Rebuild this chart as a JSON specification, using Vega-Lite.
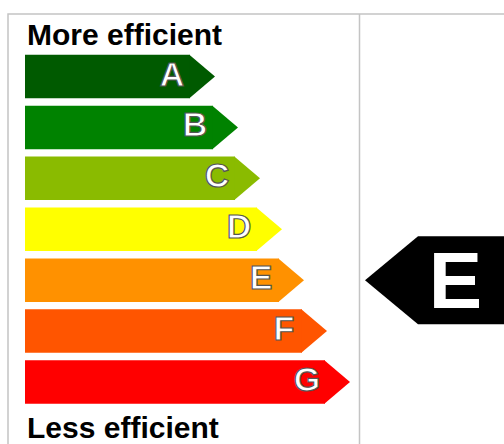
{
  "$schema": "https://vega.github.io/schema/vega-lite/v6.json",
  "width": 506,
  "height": 440,
  "autosize": "none",
  "padding": {"left": 8, "top": 14, "right": -10, "bottom": -10},
  "background": "white",
  "config": {
    "view": {"stroke": "#c4c4c4", "strokeWidth": 1.5},
    "text": {"font": "Liberation Sans", "fontWeight": "bold"}
  },
  "datasets": {
    "bars": [
      {"rating": "A", "length": 165, "color": "#005a00"},
      {"rating": "B", "length": 188, "color": "#008200"},
      {"rating": "C", "length": 210, "color": "#8abb00"},
      {"rating": "D", "length": 232, "color": "#ffff00"},
      {"rating": "E", "length": 254, "color": "#ff9100"},
      {"rating": "F", "length": 277, "color": "#ff5500"},
      {"rating": "G", "length": 300, "color": "#ff0000"}
    ],
    "marker": [{"rating": "E"}],
    "labels": [{"label": "More efficient"}, {"label": "Less efficient"}]
  },
  "layer": [
    {
      "data": {"name": "bars"},
      "mark": {"type": "rect"},
      "encoding": {
        "x": {"field": "length", "type": "quantitative", "scale": {"domain": [-17, 489], "nice": false, "zero": false}, "axis": null},
        "x2": {"datum": 0},
        "y": {"field": "rating", "type": "nominal", "axis": null,
          "scale": {"domain": ["More efficient", "A", "B", "C", "D", "E", "F", "G", "Less efficient"], "range": [-10.15, 440.7], "paddingInner": 0.146, "paddingOuter": 0}},
        "color": {"field": "color", "type": "nominal", "scale": null}
      }
    },
    {
      "data": {"name": "bars"},
      "mark": {"type": "point", "filled": true, "opacity": 1, "shape": "M-0.03,-1L1.149,0L-0.03,1Z", "size": 1892, "strokeWidth": 0},
      "encoding": {
        "x": {"field": "length", "type": "quantitative"},
        "y": {"field": "rating", "type": "nominal"},
        "color": {"field": "color", "type": "nominal", "scale": null}
      }
    },
    {
      "data": {"name": "bars"},
      "mark": {"type": "text", "fontSize": 34, "align": "center", "baseline": "middle", "dx": -18, "dy": -1, "fill": "white", "stroke": "#555555", "strokeWidth": 1.2},
      "encoding": {
        "x": {"field": "length", "type": "quantitative"},
        "y": {"field": "rating", "type": "nominal"},
        "text": {"field": "rating"}
      }
    },
    {
      "data": {"values": [{}]},
      "mark": {"type": "rule", "color": "#c4c4c4", "strokeWidth": 1.5},
      "encoding": {
        "x": {"datum": 334.5, "type": "quantitative"}
      }
    },
    {
      "data": {"name": "marker"},
      "mark": {"type": "point", "filled": true, "opacity": 1, "color": "black", "shape": "M-1.2045,0L0,-1L3,-1L3,1L0,1Z", "size": 7744, "strokeWidth": 0},
      "encoding": {
        "x": {"datum": 393, "type": "quantitative"},
        "y": {"field": "rating", "type": "nominal"}
      }
    },
    {
      "data": {"name": "marker"},
      "mark": {"type": "text", "fontSize": 80, "align": "center", "baseline": "middle", "dy": 4, "fill": "white"},
      "encoding": {
        "x": {"datum": 430.5, "type": "quantitative"},
        "y": {"field": "rating", "type": "nominal"},
        "text": {"field": "rating"}
      }
    },
    {
      "data": {"name": "labels"},
      "transform": [{"filter": "datum.label === 'More efficient'"}],
      "mark": {"type": "text", "fontSize": 30, "align": "left", "baseline": "alphabetic", "dy": 19.4, "color": "black"},
      "encoding": {
        "x": {"datum": 2, "type": "quantitative"},
        "y": {"field": "label", "type": "nominal"},
        "text": {"field": "label"}
      }
    },
    {
      "data": {"name": "labels"},
      "transform": [{"filter": "datum.label === 'Less efficient'"}],
      "mark": {"type": "text", "fontSize": 30, "align": "left", "baseline": "alphabetic", "dy": 5, "color": "black"},
      "encoding": {
        "x": {"datum": 2, "type": "quantitative"},
        "y": {"field": "label", "type": "nominal"},
        "text": {"field": "label"}
      }
    }
  ]
}
